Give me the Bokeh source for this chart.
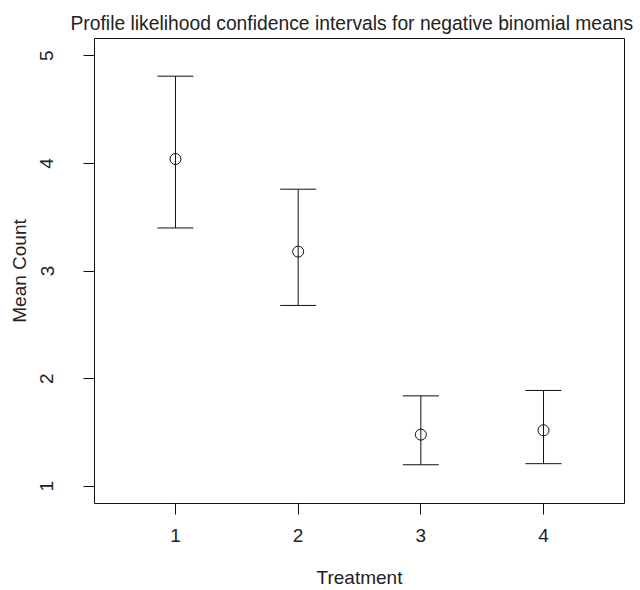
from bokeh.plotting import figure
from bokeh.models import Range1d, FixedTicker, Whisker, TeeHead, ColumnDataSource
from bokeh.embed import file_html
from bokeh.resources import INLINE

# Data
treatment = [1, 2, 3, 4]
mean_count = [4.04, 3.18, 1.48, 1.52]
lower_ci = [3.40, 2.68, 1.20, 1.21]
upper_ci = [4.81, 3.76, 1.84, 1.89]
x_ticks = [1, 2, 3, 4]
y_ticks = [1, 2, 3, 4, 5]

FONT = "Liberation Sans"
TXT = "#222222"
LINE = "#111111"

src = ColumnDataSource(dict(x=treatment, m=mean_count, lo=lower_ci, hi=upper_ci))

p = figure(width=640, height=590, output_backend="svg", toolbar_location=None,
           x_range=Range1d(0.34, 4.66), y_range=Range1d(0.84, 5.16),
           title="Profile likelihood confidence intervals for negative binomial means",
           min_border_left=94, min_border_right=16, min_border_top=38, min_border_bottom=87)

p.title.text_font = FONT
p.title.text_font_size = "19.3px"
p.title.text_font_style = "normal"
p.title.text_color = TXT
p.title.align = "left"
p.title.offset = -24
p.title.standoff = 10

p.xgrid.visible = False
p.ygrid.visible = False
p.outline_line_color = LINE
p.outline_line_width = 1
p.background_fill_color = "white"
p.border_fill_color = "white"

for ax in (p.xaxis[0], p.yaxis[0]):
    ax.axis_line_color = None
    ax.major_tick_line_color = LINE
    ax.major_tick_out = 11
    ax.major_tick_in = 0
    ax.minor_tick_line_color = None
    ax.major_label_text_font = FONT
    ax.major_label_text_font_size = "19px"
    ax.major_label_text_color = TXT
    ax.axis_label_text_font = FONT
    ax.axis_label_text_font_size = "19px"
    ax.axis_label_text_font_style = "normal"
    ax.axis_label_text_color = TXT

p.xaxis.ticker = FixedTicker(ticks=x_ticks)
p.yaxis.ticker = FixedTicker(ticks=y_ticks)
p.xaxis.axis_label = "Treatment"
p.yaxis.axis_label = "Mean Count"
p.yaxis.major_label_orientation = "vertical"
p.xaxis.major_label_standoff = 14
p.xaxis.axis_label_standoff = 22
p.yaxis.major_label_standoff = 30
p.yaxis.axis_label_standoff = 8

w = Whisker(source=src, base="x", lower="lo", upper="hi", line_color=LINE, line_width=1,
            upper_head=TeeHead(size=36, line_color=LINE, line_width=1),
            lower_head=TeeHead(size=36, line_color=LINE, line_width=1))
p.add_layout(w)

p.scatter(x="x", y="m", source=src, marker="circle", size=11, fill_color=None,
          line_color=LINE, line_width=1)

open("out.html", "w").write(file_html(p, INLINE))
